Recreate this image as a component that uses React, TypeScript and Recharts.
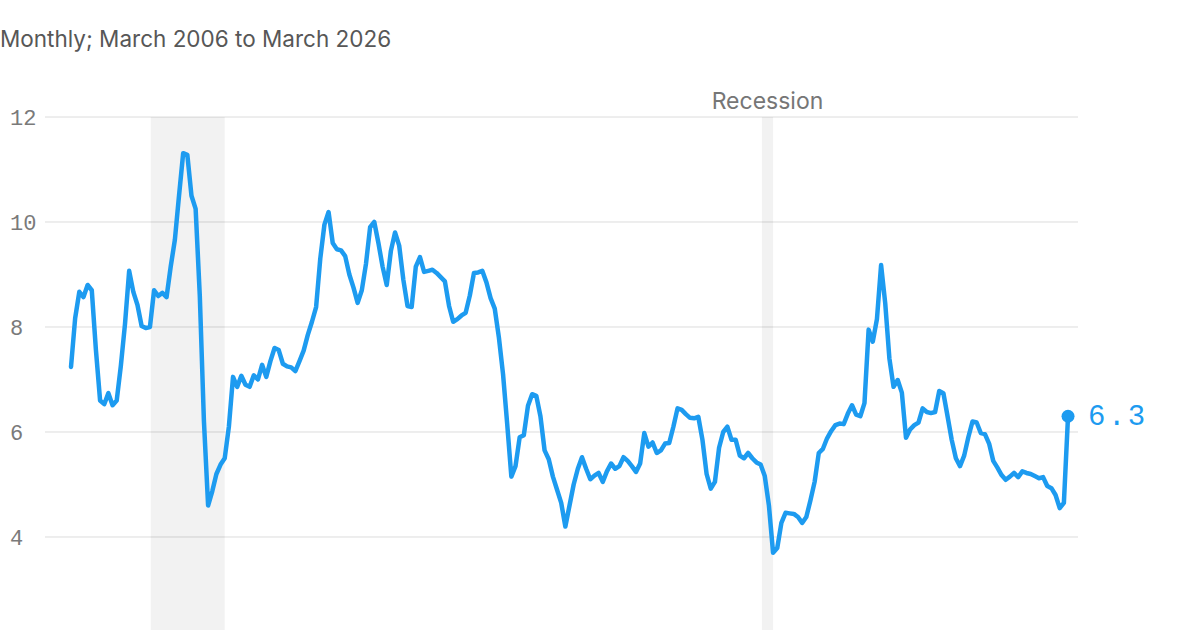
import React from 'react';
import { LineChart, Line, XAxis, YAxis, CartesianGrid, ReferenceArea } from 'recharts';

// Monthly values, March 2006 .. March 2026
const values: number[] = [
  7.24, 8.17, 8.67, 8.57, 8.8, 8.7, 7.56, 6.6, 6.53, 6.74, 6.51, 6.6,
  7.26, 8.06, 9.07, 8.67, 8.42, 8.02, 7.98, 8.0, 8.7, 8.59, 8.65, 8.57,
  9.15, 9.66, 10.5, 11.31, 11.28, 10.5, 10.25, 8.6, 6.2, 4.6, 4.87, 5.2,
  5.38, 5.5, 6.1, 7.05, 6.86, 7.07, 6.9, 6.86, 7.08, 7.0, 7.28, 7.05,
  7.35, 7.6, 7.56, 7.3, 7.25, 7.23, 7.16, 7.35, 7.55, 7.85, 8.1, 8.38,
  9.3, 9.95, 10.19, 9.6, 9.48, 9.46, 9.35, 9.0, 8.75, 8.46, 8.7, 9.2,
  9.9, 10.0, 9.6, 9.15, 8.8, 9.45, 9.8, 9.55, 8.9, 8.4, 8.38, 9.15,
  9.33, 9.05, 9.07, 9.09, 9.03, 8.95, 8.87, 8.4, 8.1, 8.15, 8.22, 8.27,
  8.6, 9.03, 9.04, 9.07, 8.85, 8.55, 8.35, 7.8, 7.1, 6.15, 5.15, 5.35,
  5.9, 5.94, 6.5, 6.72, 6.69, 6.3, 5.65, 5.48, 5.15, 4.9, 4.65, 4.2,
  4.6, 5.0, 5.3, 5.52, 5.3, 5.1, 5.17, 5.22, 5.05, 5.25, 5.4, 5.3,
  5.35, 5.52, 5.45, 5.35, 5.24, 5.4, 5.98, 5.72, 5.8, 5.6, 5.65, 5.78,
  5.79, 6.1, 6.45, 6.42, 6.34, 6.27, 6.26, 6.29, 5.85, 5.2, 4.92, 5.05,
  5.7, 6.0, 6.1, 5.85, 5.85, 5.55, 5.5, 5.6, 5.5, 5.42, 5.38, 5.16,
  4.6, 3.7, 3.79, 4.27, 4.46, 4.45, 4.44, 4.38, 4.27, 4.38, 4.7, 5.05,
  5.6, 5.68, 5.88, 6.02, 6.13, 6.16, 6.15, 6.35, 6.51, 6.33, 6.3, 6.55,
  7.95, 7.72, 8.15, 9.18, 8.45, 7.4, 6.86, 6.99, 6.75, 5.89, 6.05, 6.13,
  6.18, 6.45, 6.38, 6.36, 6.38, 6.78, 6.74, 6.3, 5.85, 5.5, 5.35, 5.55,
  5.9, 6.2, 6.18, 5.98, 5.96, 5.78, 5.45, 5.32, 5.18, 5.09, 5.15, 5.22,
  5.14, 5.25, 5.22, 5.2, 5.16, 5.12, 5.14, 4.97, 4.93, 4.8, 4.55, 4.65,
  6.3,
];

const monthNames = ['Jan', 'Feb', 'Mar', 'Apr', 'May', 'Jun', 'Jul', 'Aug', 'Sep', 'Oct', 'Nov', 'Dec'];
const startYear = 2006;
const startMonth = 2; // March
const months: string[] = values.map((_, i) => {
  const m = startMonth + i;
  return `${monthNames[m % 12]} ${startYear + Math.floor(m / 12)}`;
});

const yTicks = [4, 6, 8, 10, 12];
// recession periods, in month positions along the series
const recessionStarts = [19.2, 166.3];
const recessionEnds = [37.0, 169.0];
const recessionLabels = ['', 'Recession'];

const title = 'Monthly; March 2006 to March 2026';

const data = values.map((v, i) => ({ idx: i, month: months[i], value: v }));

const BLUE = '#1d9bf0';
const MONO = "'Liberation Mono', 'DejaVu Sans Mono', monospace";
const SANS = "Inter, 'Noto Sans', sans-serif";
const Y_MIN = 2.038;

const YTick = (props: any) => {
  const { y, payload } = props;
  return (
    <text x={10} y={y} dy="0.36em" fill="#7a7a7a" fontFamily={MONO} fontSize={22} textAnchor="start">
      {payload.value}
    </text>
  );
};

const LastDot = (props: any) => {
  const { cx, cy, index } = props;
  if (index !== values.length - 1) return <g key={`d${index}`} />;
  return (
    <g key={`d${index}`}>
      <circle cx={cx} cy={cy} r={6.5} fill={BLUE} />
      <text x={cx + 20} y={cy - 2} dy="0.36em" fill={BLUE} fontFamily={MONO} fontSize={29} letterSpacing={2.5}>
        {values[values.length - 1].toFixed(1)}
      </text>
    </g>
  );
};

export default function App() {
  return (
    <div style={{ position: 'fixed', top: 0, left: 0, width: 1200, height: 630, background: '#fff', overflow: 'hidden' }}>
      <LineChart width={1200} height={640} data={data} margin={{ top: 117, right: 122, bottom: 0, left: 0 }}>
        <XAxis dataKey="idx" type="number" domain={[-6.26, 242.4]} hide />
        <YAxis
          type="number"
          domain={[Y_MIN, 12]}
          ticks={yTicks}
          axisLine={false}
          tickLine={false}
          width={45}
          tick={<YTick />}
        />
        <CartesianGrid horizontal vertical={false} stroke="#dcdcdc" strokeWidth={1} />
        {recessionStarts.map((s, i) => (
          <ReferenceArea
            key={i}
            x1={s}
            x2={recessionEnds[i]}
            y1={Y_MIN}
            y2={12}
            fill="#000"
            fillOpacity={0.05}
            stroke="none"
            ifOverflow="visible"
            label={(p: any) => {
              const vb = p.viewBox || {};
              return recessionLabels[i] ? (
                <text x={vb.x + vb.width / 2} y={vb.y - 8} textAnchor="middle" fill="#767676" fontFamily={SANS} fontSize={23}>
                  {recessionLabels[i]}
                </text>
              ) : <g />;
            }}
          />
        ))}
        <Line
          type="linear"
          dataKey="value"
          stroke={BLUE}
          strokeWidth={4.5}
          strokeLinejoin="round"
          strokeLinecap="round"
          dot={<LastDot />}
          activeDot={false}
          isAnimationActive={false}
        />
      </LineChart>
      <svg width={1200} height={630} style={{ position: 'absolute', top: 0, left: 0, pointerEvents: 'none' }}>
        <text x={0} y={47} fill="#575757" fontFamily={SANS} fontSize={22.5}>
          {title}
        </text>
      </svg>
    </div>
  );
}
